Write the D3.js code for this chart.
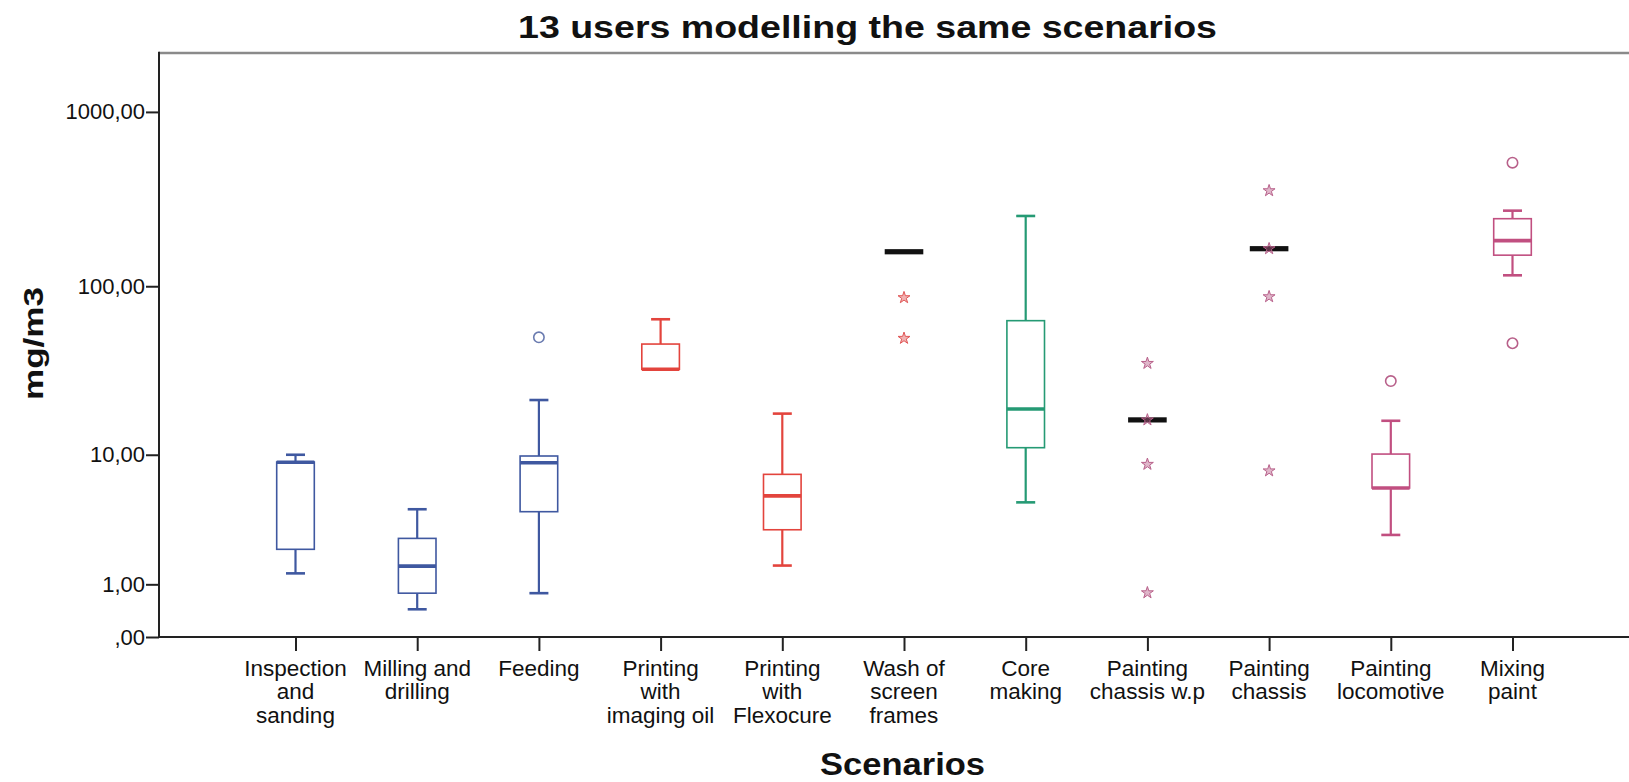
<!DOCTYPE html>
<html>
<head>
<meta charset="utf-8">
<script src="https://cdn.jsdelivr.net/npm/d3@7"></script>
<style>
  html, body { margin: 0; padding: 0; background: #fff; }
  svg { display: block; font-family: "Liberation Sans", Arial, sans-serif; }
</style>
</head>
<body>
<svg id="chart" width="1629" height="782"></svg>
<script>
// ---------------- DATA ----------------
const categories = [
  "Inspection and sanding", "Milling and drilling", "Feeding",
  "Printing with imaging oil", "Printing with Flexocure", "Wash of screen frames",
  "Core making", "Painting chassis w.p", "Painting chassis",
  "Painting locomotive", "Mixing paint"
];
const categoryLines = [
  ["Inspection", "and", "sanding"],
  ["Milling and", "drilling"],
  ["Feeding"],
  ["Printing", "with", "imaging oil"],
  ["Printing", "with", "Flexocure"],
  ["Wash of", "screen", "frames"],
  ["Core", "making"],
  ["Painting", "chassis w.p"],
  ["Painting", "chassis"],
  ["Painting", "locomotive"],
  ["Mixing", "paint"]
];
const whiskerLow  = [1.31, 0.44, 0.78, 32.9, 1.56, 158, 4.88, 16.4, 164.5, 2.83, 115.6];
const q1Values    = [2.17, 0.78, 4.2,  32.9, 3.1,  158, 11.07, 16.4, 164.5, 6.1, 151];
const medians     = [8.96, 1.54, 8.9,  32.9, 5.4,  158, 19.1, 16.4, 164.5, 6.1, 183];
const q3Values    = [9.0,  2.66, 9.82, 46.2, 7.5,  158, 63.2, 16.4, 164.5, 10.1, 244.6];
const whiskerHigh = [10.0, 4.37, 21.6, 64.4, 17.9, 158, 253.6, 16.4, 164.5, 16.2, 272];
const outliers    = [[], [], [50.6], [], [], [], [], [], [], [28], [512, 46.7]];
const extremes    = [[], [], [], [], [], [85.9, 49.9], [], [35.6, 16.4, 8.7, 0.79], [354, 164.5, 87, 7.9], [], []];
const tickValues  = [0, 1, 10, 100, 1000];
const tickLabels  = [",00", "1,00", "10,00", "100,00", "1000,00"];
const titleText = "13 users modelling the same scenarios";
const xTitle = "Scenarios";
const yTitle = "mg/m3";

// ---------------- STYLE ----------------
const blue = "#3f58a0", red = "#e3443d", green = "#259a74", pink = "#c14f80";
const palette = [blue, blue, blue, red, red, red, green, pink, pink, pink, pink];
const outlierColor = ["#6a7bb0", "#6a7bb0", "#6a7bb0", "#e05555", "#e05555", "#e05555", "#3aa080", "#b8608a", "#b8608a", "#b8608a", "#b8608a"];

const svg = d3.select("#chart");
const plotLeft = 159, plotTop = 53, plotBottom = 637, plotRight = 1629;

const x = d3.scalePoint().domain(categories).range([295.5, 1512.5]);
const y = d3.scaleSymlog().constant(1).domain([0, 2172]).range([plotBottom, plotTop]);

// frame: top border
svg.append("line").attr("x1", plotLeft).attr("x2", plotRight).attr("y1", plotTop).attr("y2", plotTop)
  .attr("stroke", "#8a8a8a").attr("stroke-width", 2.5);

// y axis
const yAxis = d3.axisLeft(y).tickValues(tickValues)
  .tickFormat((d, i) => tickLabels[i]).tickSize(13).tickPadding(1).tickSizeOuter(0);
const gy = svg.append("g").attr("transform", `translate(${plotLeft},0)`).call(yAxis);
gy.select(".domain").remove();
gy.selectAll(".tick line").attr("stroke", "#222").attr("stroke-width", 2);
gy.selectAll(".tick text").attr("font-size", 22).attr("fill", "#111")
  .attr("font-family", "Liberation Sans, Arial, sans-serif");
svg.append("line").attr("x1", plotLeft).attr("x2", plotLeft).attr("y1", plotTop - 1.25).attr("y2", plotBottom)
  .attr("stroke", "#222").attr("stroke-width", 2);

// x axis
const xAxis = d3.axisBottom(x).tickSize(14).tickFormat("").tickSizeOuter(0);
const gx = svg.append("g").attr("transform", `translate(0,${plotBottom})`).call(xAxis);
gx.select(".domain").remove();
gx.selectAll(".tick line").attr("stroke", "#222").attr("stroke-width", 2);
svg.append("line").attr("x1", plotLeft - 1).attr("x2", plotRight).attr("y1", plotBottom).attr("y2", plotBottom)
  .attr("stroke", "#222").attr("stroke-width", 2);

// category labels
const catText = svg.append("g").selectAll("text").data(categories).join("text")
  .attr("text-anchor", "middle").attr("font-size", 22.5).attr("fill", "#111")
  .attr("x", d => x(d)).attr("y", 676);
catText.each(function(d, i) {
  d3.select(this).selectAll("tspan").data(categoryLines[i]).join("tspan")
    .attr("x", x(d)).attr("dy", (t, j) => j === 0 ? 0 : 23.3).text(t => t);
});

// boxes
const boxW = 37.6, capW = 19;
const gBoxes = svg.append("g");
categories.forEach((c, i) => {
  const cx = x(c), col = palette[i];
  const g = gBoxes.append("g");
  const lo = whiskerLow[i], hi = whiskerHigh[i], q1 = q1Values[i], q3 = q3Values[i], md = medians[i];
  if (q3 > q1) {
    if (hi > q3) {
      g.append("line").attr("x1", cx).attr("x2", cx).attr("y1", y(hi)).attr("y2", y(q3))
        .attr("stroke", col).attr("stroke-width", 2.2);
      g.append("line").attr("x1", cx - capW / 2).attr("x2", cx + capW / 2).attr("y1", y(hi)).attr("y2", y(hi))
        .attr("stroke", col).attr("stroke-width", 2.6);
    }
    if (lo < q1) {
      g.append("line").attr("x1", cx).attr("x2", cx).attr("y1", y(q1)).attr("y2", y(lo))
        .attr("stroke", col).attr("stroke-width", 2.2);
      g.append("line").attr("x1", cx - capW / 2).attr("x2", cx + capW / 2).attr("y1", y(lo)).attr("y2", y(lo))
        .attr("stroke", col).attr("stroke-width", 2.6);
    }
    g.append("rect").attr("x", cx - boxW / 2).attr("width", boxW)
      .attr("y", y(q3)).attr("height", y(q1) - y(q3))
      .attr("fill", "#fff").attr("stroke", col).attr("stroke-width", 1.6);
    g.append("line").attr("x1", cx - boxW / 2).attr("x2", cx + boxW / 2).attr("y1", y(md)).attr("y2", y(md))
      .attr("stroke", col).attr("stroke-width", 3.6);
  } else {
    g.append("rect").attr("x", cx - boxW / 2 - 0.5).attr("width", boxW + 1)
      .attr("y", y(md) - 2.6).attr("height", 5.2).attr("fill", "#111");
  }
  outliers[i].forEach(v => {
    g.append("circle").attr("cx", cx).attr("cy", y(v)).attr("r", 5.2)
      .attr("fill", "none").attr("stroke", outlierColor[i]).attr("stroke-width", 1.6);
  });
  extremes[i].forEach(v => {
    g.append("path").attr("d", d3.symbol(d3.symbolStar, 44)())
      .attr("transform", `translate(${cx},${y(v)})`)
      .attr("fill", outlierColor[i]).attr("fill-opacity", 0.45)
      .attr("stroke", outlierColor[i]).attr("stroke-width", 1);
  });
});

// titles
svg.append("text").attr("x", 867.5).attr("y", 38).attr("text-anchor", "middle")
  .attr("font-size", 32).attr("font-weight", "bold").attr("fill", "#111")
  .attr("textLength", 699).attr("lengthAdjust", "spacingAndGlyphs").text(titleText);
svg.append("text").attr("x", 902.5).attr("y", 775).attr("text-anchor", "middle")
  .attr("font-size", 32).attr("font-weight", "bold").attr("fill", "#111")
  .attr("textLength", 165).attr("lengthAdjust", "spacingAndGlyphs").text(xTitle);
svg.append("text").attr("transform", "translate(43,343.5) rotate(-90)").attr("text-anchor", "middle")
  .attr("font-size", 27).attr("font-weight", "bold").attr("fill", "#111")
  .attr("textLength", 113).attr("lengthAdjust", "spacingAndGlyphs").text(yTitle);
</script>
</body>
</html>
